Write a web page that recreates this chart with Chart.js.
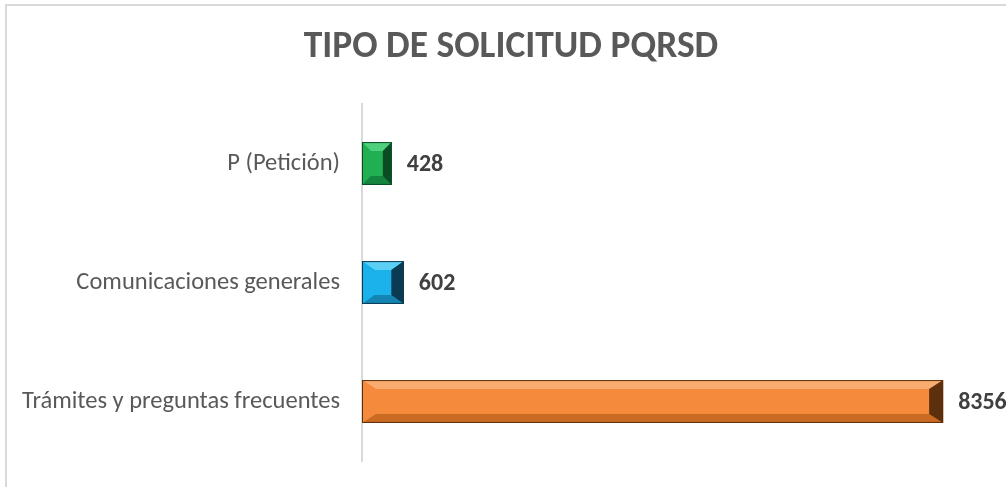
<!DOCTYPE html>
<html>
<head>
<meta charset="utf-8">
<script src="https://cdn.jsdelivr.net/npm/chart.js@4"></script>
<style>
  html, body { margin: 0; padding: 0; background: #fff; overflow: hidden; }
  #wrap { position: relative; width: 1006px; height: 487px; }
  #frame { position: absolute; left: 5px; top: 4px; width: 1100px; height: 600px; border: 2px solid #d9d9d9; box-sizing: border-box; }
  canvas { position: absolute; left: 0; top: 0; }
</style>
</head>
<body>
<div id="wrap">
  <div id="frame"></div>
  <canvas id="chart" width="1006" height="487"></canvas>
</div>
<script>
// data
const categories = ['P (Petición)', 'Comunicaciones generales', 'Trámites y preguntas frecuentes'];
const values = [428, 602, 8356];
const chartTitle = 'TIPO DE SOLICITUD PQRSD';
const axisMax = 9260;

// bar colours: face, light bevel, dark bevel, shadow side
const faceColors = ['#20b052', '#1bb1ea', '#f58a3c'];
const lightColors = ['#4fd07c', '#5ccff5', '#f8ac70'];
const darkColors = ['#14843f', '#1485b2', '#c96b22'];
const shadowColors = ['#0a4d24', '#0b3b52', '#5c2f0d'];

const FONT = "Carlito, 'Open Sans', 'Liberation Sans', sans-serif";

// bevel look + value labels
const bevelPlugin = {
    id: 'bevel',
    afterDatasetsDraw(chart) {
        const ctx = chart.ctx;
        const meta = chart.getDatasetMeta(0);
        meta.data.forEach((bar, i) => {
            const p = bar.getProps(['x', 'y', 'base', 'height'], true);
            const left = Math.min(p.base, p.x), right = Math.max(p.base, p.x);
            const top = p.y - p.height / 2, bottom = p.y + p.height / 2;
            const bx = Math.min(14, (right - left) * 0.3);
            const by = Math.min(9, p.height / 4);
            const poly = (pts, color) => {
                ctx.beginPath();
                ctx.moveTo(pts[0][0], pts[0][1]);
                pts.slice(1).forEach(q => ctx.lineTo(q[0], q[1]));
                ctx.closePath();
                ctx.fillStyle = color;
                ctx.fill();
            };
            ctx.save();
            poly([[left, top], [right, top], [right - bx, top + by], [left + bx, top + by]], lightColors[i]);
            poly([[left, top], [left + bx, top + by], [left + bx, bottom - by], [left, bottom]], faceColors[i]);
            poly([[left, bottom], [left + bx, bottom - by], [right - bx, bottom - by], [right, bottom]], darkColors[i]);
            poly([[right, top], [right, bottom], [right - bx, bottom - by], [right - bx, top + by]], shadowColors[i]);
            ctx.strokeStyle = shadowColors[i];
            ctx.lineWidth = 1;
            ctx.strokeRect(left + 0.5, top + 0.5, right - left - 1, bottom - top - 1);

            ctx.fillStyle = '#404040';
            ctx.font = 'bold 24px ' + FONT;
            ctx.textAlign = 'left';
            ctx.textBaseline = 'middle';
            ctx.fillText(String(values[i]), right + 15, p.y + 1);
            ctx.restore();
        });
    }
};

new Chart(document.getElementById('chart').getContext('2d'), {
    type: 'bar',
    data: {
        labels: categories,
        datasets: [{
            data: values,
            backgroundColor: faceColors,
            borderWidth: 0,
            barPercentage: 0.6,
            categoryPercentage: 0.6
        }]
    },
    options: {
        indexAxis: 'y',
        responsive: false,
        animation: false,
        layout: { padding: { top: 4, right: 0, bottom: 26, left: 16 } },
        plugins: {
            legend: { display: false },
            tooltip: { enabled: false },
            title: {
                display: true,
                text: chartTitle,
                color: '#595959',
                font: { family: FONT, size: 37.5, weight: 'bold', lineHeight: 1.2 },
                padding: { top: 21, bottom: 34 }
            }
        },
        scales: {
            x: { display: false, min: 0, max: axisMax },
            y: {
                afterFit(scale) {
                    scale.width = 346;
                    scale.paddingTop = 0;
                    scale.paddingBottom = 0;
                },
                grid: { display: true, drawOnChartArea: false, drawTicks: false, color: 'rgba(0,0,0,0)' },
                border: { display: true, color: '#d9d9d9', width: 2 },
                ticks: {
                    color: '#595959',
                    padding: 22,
                    font: { family: FONT, size: 24.5 }
                }
            }
        }
    },
    plugins: [bevelPlugin]
});
</script>
</body>
</html>
